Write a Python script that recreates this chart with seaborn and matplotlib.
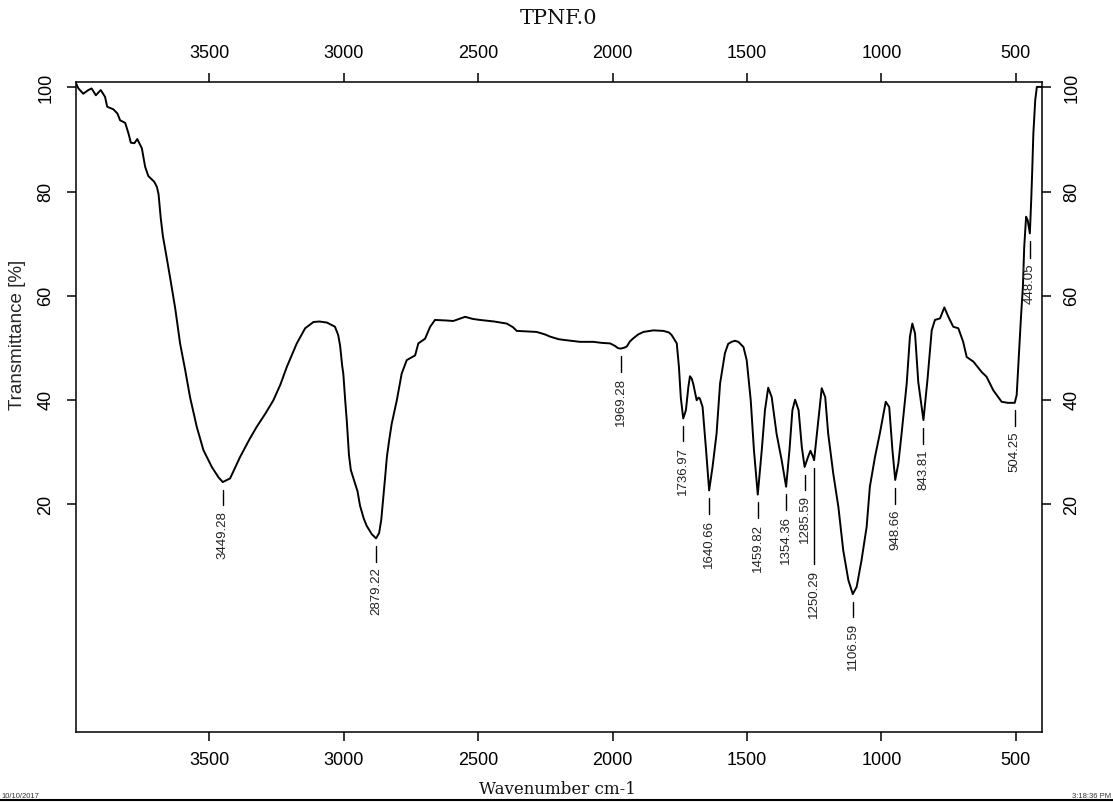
import numpy as np
import pandas as pd
import matplotlib
matplotlib.use("Agg")
import matplotlib.pyplot as plt
from matplotlib.lines import Line2D
import seaborn as sns

# FTIR spectrum of sample TPNF.0 (wavenumber in cm-1, transmittance in %)
wavenumber = [
    3995, 3986, 3968, 3949, 3937, 3921, 3903, 3887, 3879, 3856, 3841, 3831,
    3812, 3800, 3791, 3778, 3767, 3750, 3738, 3726, 3704, 3694, 3688, 3680,
    3672, 3660, 3645, 3626, 3608, 3589, 3571, 3546, 3521, 3490, 3465, 3449.28,
    3422, 3385, 3350, 3323, 3290, 3261, 3235, 3211, 3174, 3143, 3112, 3090,
    3062, 3032, 3020, 3013, 3005, 3001, 2994, 2988, 2980, 2973, 2957, 2948,
    2939, 2925, 2914, 2895, 2879.22, 2868, 2860, 2852, 2845, 2839, 2830, 2821,
    2802, 2784, 2765, 2734, 2722, 2697, 2678, 2660, 2620, 2592, 2548, 2520,
    2493, 2440, 2393, 2370, 2356, 2320, 2282, 2250, 2232, 2200, 2170, 2121,
    2071, 2040, 2009, 1990, 1980, 1969.28, 1955, 1947, 1935, 1922, 1905, 1885,
    1848, 1811, 1790, 1780, 1768, 1761, 1753, 1746, 1736.97, 1727, 1718, 1712,
    1706, 1700, 1687, 1680, 1675, 1665, 1652, 1640.66, 1628, 1613, 1600, 1582,
    1570, 1557, 1545, 1532, 1513, 1501, 1486, 1474, 1459.82, 1445, 1433, 1421,
    1408, 1390, 1371, 1354.36, 1342, 1331, 1321, 1308, 1296, 1285.59, 1273, 1264,
    1254, 1250.29, 1237, 1222, 1209, 1198, 1179, 1160, 1142, 1123, 1106.59, 1092,
    1074, 1055, 1043, 1024, 1006, 984, 971, 959, 948.66, 937, 925, 906,
    894, 885, 875, 863, 843.81, 829, 813, 801, 782, 766, 751, 733,
    714, 696, 683, 658, 627, 609, 584, 553, 530, 504.25, 497, 490,
    481, 474, 469, 462, 456, 448.05, 443, 440, 435, 428, 422, 404,
]
transmittance = [
    100.8, 99.8, 98.8, 99.5, 99.8, 98.5, 99.5, 98.2, 96.3, 95.8, 95.0, 93.7,
    93.2, 91.2, 89.4, 89.3, 90.1, 88.3, 84.8, 83.0, 81.9, 80.9, 79.5, 75.0,
    71.5, 68.0, 63.5, 57.6, 50.9, 45.8, 40.6, 34.9, 30.4, 27.2, 25.2, 24.3,
    25.0, 29.1, 32.5, 34.9, 37.5, 40.0, 43.0, 46.4, 50.9, 53.8, 55.0, 55.1,
    54.9, 54.1, 52.5, 50.5, 46.5, 45.1, 40.0, 36.0, 29.5, 26.6, 24.0, 22.5,
    19.8, 17.3, 15.9, 14.3, 13.5, 14.5, 17.0, 21.5, 25.5, 29.1, 32.5, 35.5,
    40.0, 45.1, 47.7, 48.6, 50.9, 51.8, 54.1, 55.4, 55.3, 55.2, 56.0, 55.6,
    55.4, 55.1, 54.7, 54.0, 53.3, 53.2, 53.1, 52.6, 52.2, 51.7, 51.5, 51.2,
    51.2, 51.0, 50.9, 50.4, 50.0, 49.9, 50.1, 50.3, 51.3, 51.9, 52.6, 53.1,
    53.4, 53.3, 53.0, 52.5, 51.5, 50.9, 46.4, 40.5, 36.5, 38.1, 42.5, 44.6,
    44.2, 43.2, 40.0, 40.5, 40.3, 38.7, 30.4, 22.7, 27.2, 33.6, 43.2, 49.0,
    50.8, 51.2, 51.4, 51.2, 50.2, 47.7, 40.0, 30.4, 21.9, 30.4, 38.1, 42.4,
    40.6, 33.6, 28.5, 23.4, 30.4, 38.1, 40.1, 38.1, 31.0, 27.2, 29.1, 30.3,
    29.1, 28.5, 34.9, 42.3, 40.6, 33.6, 25.9, 19.5, 11.2, 5.5, 2.8, 4.2,
    9.3, 15.7, 23.4, 29.1, 33.6, 39.7, 38.7, 30.4, 24.7, 27.9, 33.6, 43.2,
    52.2, 54.7, 52.8, 43.5, 36.2, 43.8, 53.4, 55.4, 55.7, 57.8, 56.0, 54.1,
    53.8, 51.2, 48.3, 47.4, 45.4, 44.5, 41.9, 39.7, 39.5, 39.5, 41.0, 47.7,
    56.0, 61.7, 69.4, 75.2, 74.5, 72.0, 78.4, 82.8, 91.2, 97.6, 100.1, 100.1,
]

# Labelled absorption bands and the length of each label stem (in % units)
peak_positions = [3449.28, 2879.22, 1969.28, 1736.97, 1640.66, 1459.82, 1354.36,
                  1285.59, 1250.29, 1106.59, 948.66, 843.81, 504.25, 448.05]
peak_stems = [3.0, 3.0, 3.1, 2.9, 3.1, 3.1, 3.0,
              2.9, 18.5, 2.9, 3.1, 3.1, 2.9, 3.2]

x_ticks = [3500, 3000, 2500, 2000, 1500, 1000, 500]
y_ticks = [20, 40, 60, 80, 100]

sns.set_style("ticks")
plt.rcParams["font.family"] = ["Liberation Sans", "DejaVu Sans"]

W, H = 1113, 802
fig = plt.figure(figsize=(W / 100, H / 100), dpi=100)
fig.patch.set_facecolor("white")
ax = fig.add_axes([76 / W, 1 - 732.3 / H, (1041.7 - 76) / W, (732.3 - 81.7) / H])

df = pd.DataFrame({"wavenumber": wavenumber, "transmittance": transmittance})
sns.lineplot(data=df, x="wavenumber", y="transmittance", ax=ax, sort=False,
             estimator=None, color="black", linewidth=1.4)

ax.set_xlim(3995, 404)
ax.set_ylim(-23.7, 101.1)
ax.set_xticks(x_ticks)
ax.set_yticks(y_ticks)
ax.set_xlabel("")
ax.set_ylabel("")
ax.tick_params(direction="out", length=6.5, width=1.1, labelsize=13, pad=8,
               top=True, right=True, labeltop=True, labelright=True,
               colors="black")
ax.tick_params(axis="y", labelrotation=90, pad=9)
for tick in ax.yaxis.get_major_ticks():
    tick.label1.set_verticalalignment("center")
    tick.label2.set_verticalalignment("center")
for spine in ax.spines.values():
    spine.set_linewidth(1.1)
    spine.set_color("black")

# Band markers: a short stem under each minimum with the wavenumber below it
wn_arr = np.array(wavenumber)
t_arr = np.array(transmittance)
order = np.argsort(wn_arr)
for pos, stem in zip(peak_positions, peak_stems):
    t_min = np.interp(pos, wn_arr[order], t_arr[order])
    top = t_min - 1.45
    bottom = top - stem
    ax.plot([pos, pos], [top, bottom], color="black", linewidth=1.0)
    ax.text(pos, bottom - 1.1, f"{pos:.2f}", rotation=90, ha="center", va="top",
            fontsize=9.5, color="#222222")

# Titles
fig.text(559 / W, 1 - 18 / H, "TPNF.0", family=["DejaVu Serif"], fontsize=15,
         ha="center", va="center", color="#111111")
fig.text(557 / W, 1 - 789 / H, "Wavenumber cm-1", family=["DejaVu Serif"],
         fontsize=12, ha="center", va="center", color="#111111")
fig.text(18 / W, 1 - 335 / H, "Transmittance [%]", rotation=90, fontsize=13.5,
         ha="center", va="center")

# Page footer
fig.text(1 / W, 1 - 797.5 / H, "10/10/2017", fontsize=5.5, ha="left",
         va="baseline", color="#333333")
fig.text(1 - 2 / W, 1 - 797.5 / H, "3:18:36 PM", fontsize=5.5, ha="right",
         va="baseline", color="#333333")
fig.add_artist(Line2D([0, 1], [1 - 799.8 / H] * 2, transform=fig.transFigure,
                      color="black", linewidth=1.5))

fig.savefig("out.png", dpi=100, facecolor="white")
